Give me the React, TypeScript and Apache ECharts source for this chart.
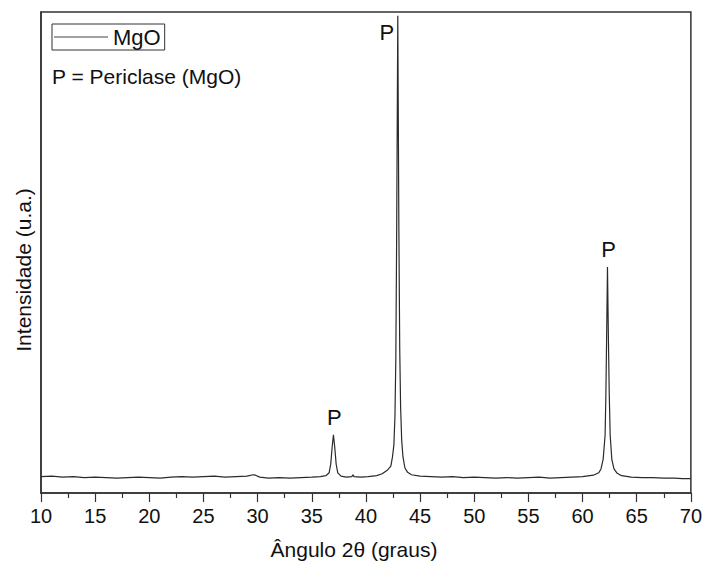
import React, { useEffect, useRef } from "react";
import * as echarts from "echarts";

const angle = [
  10, 11, 12, 13, 14, 15, 16, 17, 18, 19, 20, 21, 22, 23, 24, 25, 26, 27, 28, 29,
  29.6, 29.8, 30.2, 31, 32, 33, 34, 35, 35.8, 36.3, 36.6, 36.75, 36.88, 37.0, 37.12,
  37.25, 37.4, 37.7, 38.2, 38.7, 38.8, 38.9, 39.5, 40.2, 41.0, 41.5, 42.0, 42.3,
  42.45, 42.58, 42.68, 42.76, 42.84, 42.94, 43.04, 43.12, 43.2, 43.3, 43.42, 43.6,
  43.85, 44.2, 45, 46, 47, 48, 49, 50, 51, 52, 53, 54, 55, 56, 57, 58, 59, 60, 61.0,
  61.5, 61.7, 61.9, 62.08, 62.15, 62.22, 62.3, 62.38, 62.46, 62.55, 62.7, 62.9,
  63.2, 63.6, 64.5, 65.5, 66.5, 67.5, 68.5, 69.2, 70,
];
const intensity = [
  3.4, 3.5, 3.3, 3.4, 3.2, 3.3, 3.2, 3.1, 3.2, 3.3, 3.2, 3.1, 3.3, 3.4, 3.3, 3.4,
  3.5, 3.3, 3.4, 3.5, 3.8, 3.7, 3.3, 3.1, 3.2, 3.1, 3.2, 3.3, 3.4, 3.6, 4.2, 6.0,
  9.5, 12.1, 9.5, 6.0, 4.2, 3.5, 3.3, 3.4, 3.8, 3.4, 3.3, 3.4, 3.6, 4.0, 4.8, 5.6,
  7.5, 10.0, 16.0, 28.0, 55.0, 99.2, 55.0, 30.0, 18.0, 11.0, 7.5, 5.2, 4.3, 3.8,
  3.5, 3.4, 3.3, 3.4, 3.2, 3.3, 3.2, 3.1, 3.2, 3.1, 3.2, 3.3, 3.1, 3.2, 3.3, 3.4,
  3.7, 4.2, 5.0, 7.0, 12.0, 20.0, 32.0, 47.0, 33.0, 21.0, 12.0, 7.0, 5.0, 4.1,
  3.6, 3.3, 3.2, 3.2, 3.1, 3.1, 3.0, 3.0,
];
const peakAngles = [37.0, 42.94, 62.3];
const peakLabel = "P";
const seriesName = "MgO";
const noteText = "P = Periclase (MgO)";
const xTitle = "Ângulo 2θ (graus)";
const yTitle = "Intensidade (u.a.)";

const FONT = '"Liberation Sans", Arial, Helvetica, sans-serif';

export default function App() {
  const ref = useRef<HTMLDivElement>(null);
  useEffect(() => {
    if (!ref.current) return;
    const chart = echarts.init(ref.current, null, { renderer: "svg" });
    const data = angle.map((a, i) => [a, intensity[i]]);
    const offsets: Record<number, number[]> = {
      0: [1, -17],
      1: [-11, 17],
      2: [1, -17],
    };
    const markData = peakAngles.map((p, k) => {
      const idx = angle.indexOf(p);
      return {
        coord: [p, intensity[idx]],
        label: { offset: offsets[k] },
      };
    });
    chart.setOption({
      animation: false,
      backgroundColor: "#ffffff",
      textStyle: { fontFamily: FONT },
      grid: {
        left: 41,
        right: 11,
        top: 12,
        bottom: 70,
        show: true,
        borderColor: "#333333",
        borderWidth: 1.5,
      },
      legend: {
        show: true,
        data: [seriesName],
        left: 52,
        top: 24,
        orient: "vertical",
        icon: "rect",
        borderColor: "#333333",
        borderWidth: 1,
        borderRadius: 0,
        padding: [2, 4, 2, 2],
        itemWidth: 54,
        itemHeight: 1,
        itemGap: 0,
        itemStyle: { color: "#444444" },
        textStyle: { fontSize: 22, color: "#111111", fontFamily: FONT },
      },
      xAxis: {
        type: "value",
        min: 10,
        max: 70,
        interval: 5,
        axisLine: { show: true, lineStyle: { color: "#333333", width: 1.5 } },
        axisTick: {
          show: true,
          inside: false,
          length: 9,
          lineStyle: { color: "#333333", width: 1.2 },
        },
        minorTick: {
          show: true,
          splitNumber: 2,
          length: 5,
          lineStyle: { color: "#333333", width: 1.2 },
        },
        splitLine: { show: false },
        axisLabel: {
          margin: 13,
          fontSize: 20,
          color: "#111111",
          fontFamily: FONT,
        },
      },
      yAxis: {
        type: "value",
        min: 0,
        max: 100,
        axisLine: { show: true, lineStyle: { color: "#333333", width: 1.5 } },
        axisTick: { show: false },
        axisLabel: { show: false },
        splitLine: { show: false },
      },
      graphic: [
        {
          type: "text",
          left: 52,
          top: 66,
          style: {
            text: noteText,
            fontSize: 21,
            fill: "#111111",
            fontFamily: FONT,
          },
        },
        {
          type: "text",
          x: 354,
          y: 549,
          style: {
            text: xTitle,
            fontSize: 21,
            fill: "#111111",
            fontFamily: FONT,
            align: "center",
            verticalAlign: "middle",
          },
        },
        {
          type: "text",
          x: 23,
          y: 270,
          rotation: Math.PI / 2,
          style: {
            text: yTitle,
            fontSize: 21,
            fill: "#111111",
            fontFamily: FONT,
            align: "center",
            verticalAlign: "middle",
          },
        },
      ],
      series: [
        {
          name: seriesName,
          type: "line",
          data,
          symbol: "none",
          showSymbol: false,
          lineStyle: { color: "#2a2a2a", width: 1.2 },
          itemStyle: { color: "#2a2a2a" },
          markPoint: {
            symbol: "rect",
            symbolSize: 1,
            itemStyle: { color: "rgba(0,0,0,0)" },
            label: {
              show: true,
              position: "inside",
              formatter: peakLabel,
              fontSize: 22,
              color: "#111111",
              fontFamily: FONT,
            },
            data: markData,
          },
        },
      ],
    });
    return () => chart.dispose();
  }, []);
  return <div ref={ref} style={{ width: 705, height: 563, position: "absolute", left: 0, top: 0 }} />;
}
